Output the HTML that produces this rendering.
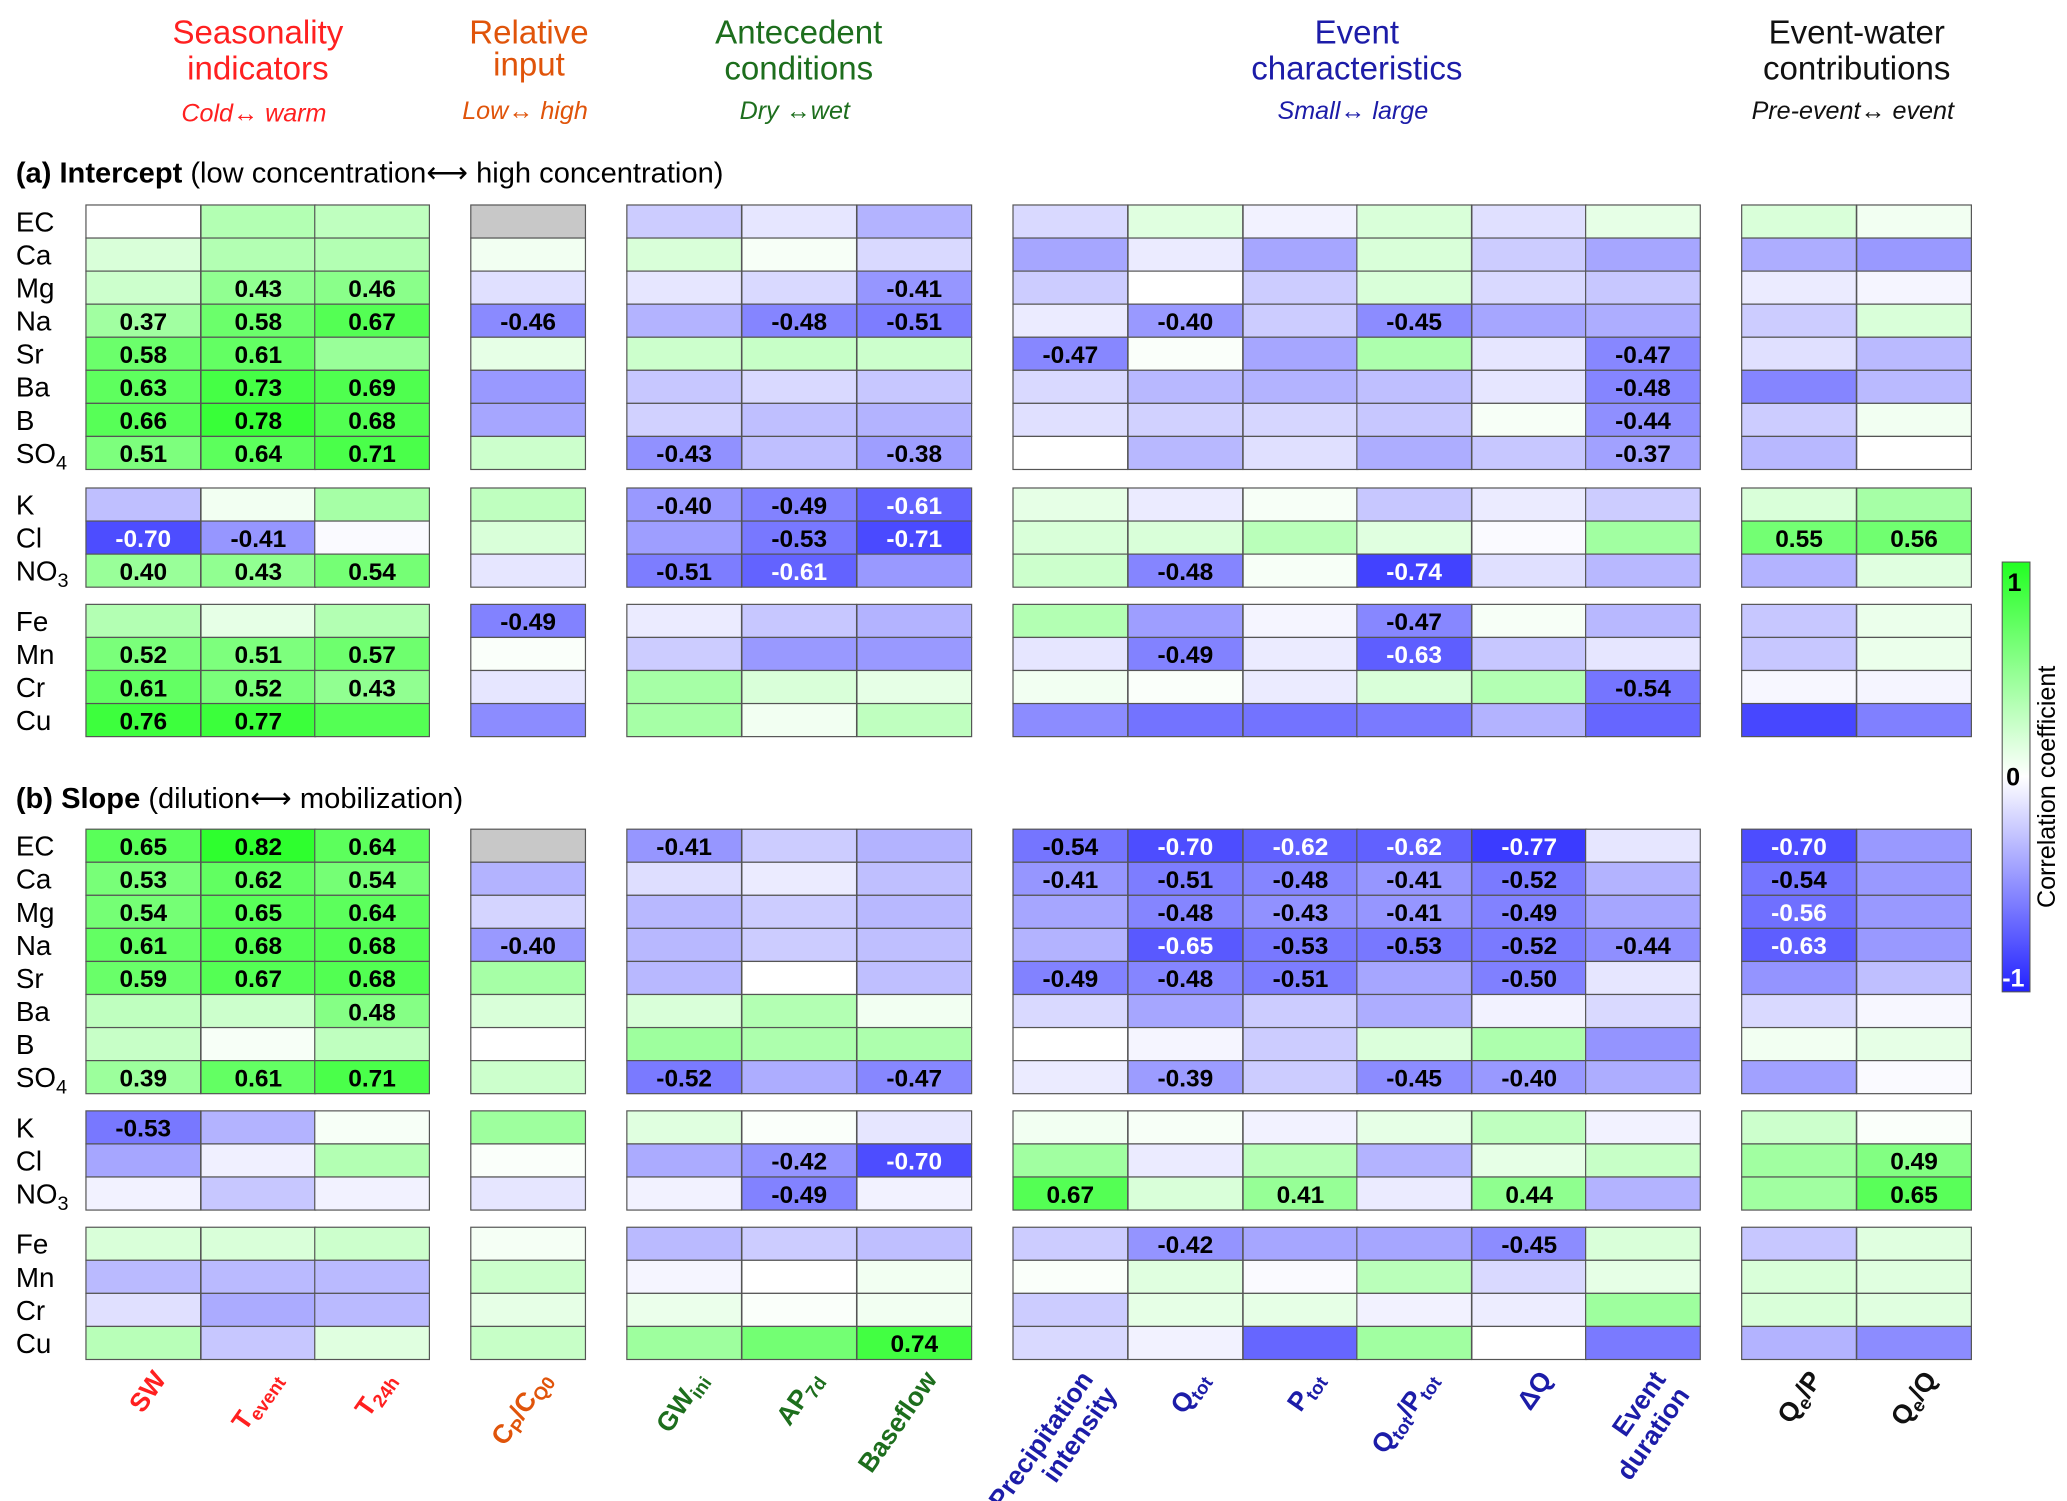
<!DOCTYPE html>
<html><head><meta charset="utf-8"><style>
html,body{margin:0;padding:0;background:#fff;}
svg{display:block;font-family:"Liberation Sans",Arial,sans-serif;}
</style></head><body>
<svg id="chart" width="2067" height="1501" viewBox="0 0 1563 1135" xmlns="http://www.w3.org/2000/svg">
<g font-size="25" text-anchor="middle">
<text x="195" y="33" fill="#ff2020">Seasonality</text>
<text x="195" y="60" fill="#ff2020">indicators</text>
<text x="400" y="33" fill="#e0540a">Relative</text>
<text x="400" y="57" fill="#e0540a">input</text>
<text x="604" y="33" fill="#1d6e1d">Antecedent</text>
<text x="604" y="60" fill="#1d6e1d">conditions</text>
<text x="1026" y="33" fill="#1c1ca8">Event</text>
<text x="1026" y="60" fill="#1c1ca8">characteristics</text>
<text x="1404" y="33" fill="#111">Event-water</text>
<text x="1404" y="60" fill="#111">contributions</text>
<g font-size="19" font-style="italic">
<text x="192" y="92" fill="#ff2020">Cold↔ warm</text>
<text x="397" y="90" fill="#e0540a">Low↔ high</text>
<text x="601" y="90" fill="#1d6e1d">Dry ↔wet</text>
<text x="1023" y="90" fill="#1c1ca8">Small↔ large</text>
<text x="1401" y="90" fill="#111">Pre-event↔ event</text>
</g></g>
<text x="12" y="138" font-size="22"><tspan font-weight="bold">(a) Intercept</tspan> (low concentration⟷ high concentration)</text>
<text x="12" y="611" font-size="22"><tspan font-weight="bold">(b) Slope</tspan> (dilution⟷  mobilization)</text>
<g id="cells"></g>
<g id="labels"></g>
<defs><linearGradient id="cb" x1="0" y1="0" x2="0" y2="1">
<stop offset="0" stop-color="#22ff22"/><stop offset="0.5" stop-color="#ffffff"/><stop offset="1" stop-color="#2222ff"/></linearGradient></defs>
<rect x="1514" y="425" width="21" height="325" fill="url(#cb)" stroke="#555" stroke-width="0.8"/>
<text x="1518" y="447" font-size="19" font-weight="bold">1</text>
<text x="1517" y="594" font-size="19" font-weight="bold">0</text>
<text x="1514" y="746" font-size="19" font-weight="bold" fill="#fff">-1</text>
<text transform="translate(1554,595) rotate(-90)" font-size="19" text-anchor="middle">Correlation coefficient</text>
</svg>
<script>
const elements = ["EC","Ca","Mg","Na","Sr","Ba","B","SO4","K","Cl","NO3","Fe","Mn","Cr","Cu"];
const variables = ["SW","Tevent","T24h","Cp/CQ0","GWini","AP7d","Baseflow","Precipitation intensity","Qtot","Ptot","Qtot/Ptot","dQ","Event duration","Qe/P","Qe/Q"];
const interceptValues = [
[0.0,0.3,0.25,null,-0.2,-0.1,-0.3,-0.15,0.12,-0.05,0.15,-0.12,0.1,0.15,0.05],
[0.15,0.3,0.3,0.05,0.15,0.03,-0.15,-0.35,-0.08,-0.35,0.15,-0.2,-0.35,-0.32,-0.4],
[0.2,0.43,0.46,-0.12,-0.1,-0.15,-0.41,-0.2,0,-0.2,0.15,-0.15,-0.22,-0.08,-0.04],
[0.37,0.58,0.67,-0.46,-0.3,-0.48,-0.51,-0.08,-0.40,-0.2,-0.45,-0.35,-0.32,-0.2,0.15],
[0.58,0.61,0.4,0.1,0.2,0.22,0.2,-0.47,0.02,-0.35,0.32,-0.1,-0.47,-0.12,-0.27],
[0.63,0.73,0.69,-0.4,-0.22,-0.15,-0.22,-0.15,-0.28,-0.3,-0.25,-0.1,-0.48,-0.48,-0.27],
[0.66,0.78,0.68,-0.35,-0.18,-0.25,-0.3,-0.12,-0.18,-0.16,-0.22,0.03,-0.44,-0.2,0.05],
[0.51,0.64,0.71,0.2,-0.43,-0.25,-0.38,0.0,-0.28,-0.12,-0.32,-0.22,-0.37,-0.28,0.0],
[-0.25,0.05,0.35,0.25,-0.40,-0.49,-0.61,0.1,-0.08,0.03,-0.22,-0.08,-0.2,0.15,0.35],
[-0.70,-0.41,-0.02,0.15,-0.38,-0.53,-0.71,0.15,0.15,0.27,0.12,-0.02,0.37,0.55,0.56],
[0.40,0.43,0.54,-0.1,-0.51,-0.61,-0.4,0.2,-0.48,0.03,-0.74,-0.12,-0.28,-0.3,0.12],
[0.3,0.1,0.3,-0.49,-0.08,-0.22,-0.3,0.3,-0.38,-0.04,-0.47,0.03,-0.28,-0.22,0.08],
[0.52,0.51,0.57,0.02,-0.2,-0.4,-0.4,-0.1,-0.49,-0.08,-0.63,-0.22,-0.1,-0.22,0.08],
[0.61,0.52,0.43,-0.1,0.35,0.15,0.1,0.05,0.02,-0.08,0.15,0.3,-0.54,-0.03,-0.04],
[0.76,0.77,0.67,-0.45,0.35,0.05,0.25,-0.45,-0.55,-0.55,-0.52,-0.3,-0.6,-0.72,-0.5]];
const interceptSig = ["000000000000000","000000000000000","011000100000000","111101101010000","110000010000100","111000000000100","111000000000100","111010100000100","000011100000000","110001100000011","111011001010000","000100000010000","111000001010000","111000000000100","110000000000000"];
const slopeValues = [
[0.65,0.82,0.64,null,-0.41,-0.2,-0.3,-0.54,-0.70,-0.62,-0.62,-0.77,-0.1,-0.70,-0.4],
[0.53,0.62,0.54,-0.3,-0.13,-0.08,-0.25,-0.41,-0.51,-0.48,-0.41,-0.52,-0.3,-0.54,-0.4],
[0.54,0.65,0.64,-0.17,-0.28,-0.2,-0.28,-0.35,-0.48,-0.43,-0.41,-0.49,-0.35,-0.56,-0.4],
[0.61,0.68,0.68,-0.40,-0.28,-0.2,-0.25,-0.3,-0.65,-0.53,-0.53,-0.52,-0.44,-0.63,-0.4],
[0.59,0.67,0.68,0.35,-0.28,0,-0.25,-0.49,-0.48,-0.51,-0.35,-0.50,-0.1,-0.42,-0.25],
[0.25,0.2,0.48,0.15,0.15,0.3,0.05,-0.15,-0.35,-0.2,-0.32,-0.05,-0.15,-0.15,-0.03],
[0.22,0.03,0.25,0.0,0.38,0.32,0.32,0.0,-0.04,-0.2,0.14,0.32,-0.42,0.05,0.1],
[0.39,0.61,0.71,0.2,-0.52,-0.32,-0.47,-0.08,-0.39,-0.2,-0.45,-0.40,-0.32,-0.37,-0.02],
[-0.53,-0.3,0.03,0.38,0.12,0.02,-0.1,0.05,0.03,-0.05,0.1,0.25,-0.05,0.2,0.02],
[-0.35,-0.06,0.3,0.02,-0.33,-0.42,-0.70,0.37,-0.08,0.28,-0.3,0.1,0.22,0.37,0.49],
[-0.05,-0.22,-0.05,-0.1,-0.05,-0.49,-0.05,0.67,0.15,0.41,-0.08,0.44,-0.3,0.37,0.65],
[0.15,0.15,0.2,0.04,-0.27,-0.2,-0.25,-0.2,-0.42,-0.35,-0.35,-0.45,0.15,-0.22,0.12],
[-0.27,-0.27,-0.27,0.2,-0.04,0,0.05,0.02,0.12,-0.02,0.27,-0.15,0.1,0.15,0.12],
[-0.12,-0.33,-0.27,0.1,0.08,0.02,0.05,-0.2,0.1,0.1,-0.05,-0.07,0.38,0.15,0.12],
[0.28,-0.22,0.12,0.22,0.38,0.55,0.74,-0.15,-0.05,-0.6,0.37,0,-0.52,-0.3,-0.45]];
const slopeSig = ["111010011111010","111000011111010","111000001111010","111100001111110","111000011101000","001000000000000","000000000000000","111010101011000","100000000000000","000001100000001","000001010101001","000000001001000","000000000000000","000000000000000","000000100000000"];

const colX = [65,152,238,356,474,561,648,766,853,940,1026,1113,1199,1317,1404];
const cellW = 86.7, cellH = 25;
const groupStartsA = [155,369,457], groupStartsB = [627,840,928];
function rowY(i, starts){ if(i<8) return starts[0]+i*cellH; if(i<11) return starts[1]+(i-8)*cellH; return starts[2]+(i-11)*cellH; }
function cellColor(v){
  if(v===null) return "#c8c8c8";
  const a = Math.max(0, Math.min(1, Math.abs(v)));
  const c = Math.round(Math.max(30, 255*(1-a)));
  return v>=0 ? "rgb("+c+",255,"+c+")" : "rgb("+c+","+c+",255)";
}
const NS = "http://www.w3.org/2000/svg";
const cellLayer = document.getElementById("cells");
const labelLayer = document.getElementById("labels");
function drawPanel(vals, sig, starts, tag){
  vals.forEach(function(row,i){
    row.forEach(function(v,j){
      const r = document.createElementNS(NS,"rect");
      r.setAttribute("x",colX[j]); r.setAttribute("y",rowY(i,starts));
      r.setAttribute("width",cellW); r.setAttribute("height",cellH);
      r.setAttribute("fill",cellColor(v)); r.setAttribute("stroke","#555"); r.setAttribute("stroke-width","0.9");
      
      
      cellLayer.appendChild(r);
      if(v!==null && sig[i][j]==="1"){
        const t = document.createElementNS(NS,"text");
        t.setAttribute("x",colX[j]+cellW/2); t.setAttribute("y",rowY(i,starts)+19.5);
        t.setAttribute("text-anchor","middle"); t.setAttribute("font-size","18.5"); t.setAttribute("font-weight","bold");
        t.setAttribute("fill", v<=-0.55 ? "#fff" : "#000");
        t.textContent = v.toFixed(2);
        
        
        labelLayer.appendChild(t);
      }
    });
  });
  elements.forEach(function(e,i){
    const t = document.createElementNS(NS,"text");
    t.setAttribute("x",12); t.setAttribute("y",rowY(i,starts)+20); t.setAttribute("font-size","21");
    if(e==="SO4"||e==="NO3"){ t.innerHTML = e.slice(0,2)+'<tspan font-size="15" dy="5">'+e[2]+'</tspan>'; }
    else t.textContent = e;
    
    
    labelLayer.appendChild(t);
  });
}
drawPanel(interceptValues, interceptSig, groupStartsA, "a");
drawPanel(slopeValues, slopeSig, groupStartsB, "b");
const xColors = ["#ff2020","#ff2020","#ff2020","#e0540a","#1d6e1d","#1d6e1d","#1d6e1d","#1c1ca8","#1c1ca8","#1c1ca8","#1c1ca8","#1c1ca8","#1c1ca8","#111","#111"];
const xHtml = ['SW','T<tspan font-size="14" dy="4">event</tspan>','T<tspan font-size="14" dy="4">24h</tspan>','C<tspan font-size="14" dy="4">P</tspan><tspan dy="-4">/C</tspan><tspan font-size="14" dy="4">Q0</tspan>','GW<tspan font-size="14" dy="4">ini</tspan>','AP<tspan font-size="14" dy="4">7d</tspan>','Baseflow','Precipitation','Q<tspan font-size="14" dy="4">tot</tspan>','P<tspan font-size="14" dy="4">tot</tspan>','Q<tspan font-size="14" dy="4">tot</tspan><tspan dy="-4">/P</tspan><tspan font-size="14" dy="4">tot</tspan>','ΔQ','Event','Q<tspan font-size="14" dy="4">e</tspan><tspan dy="-4">/P</tspan>','Q<tspan font-size="14" dy="4">e</tspan><tspan dy="-4">/Q</tspan>'];
variables.forEach(function(v,j){
  const cx = colX[j]+cellW/2+18, cy = 1043;
  const t = document.createElementNS(NS,"text");
  t.setAttribute("transform","translate("+cx+","+cy+") rotate(-55)");
  t.setAttribute("text-anchor","end"); t.setAttribute("font-size","20"); t.setAttribute("font-weight","bold");
  t.setAttribute("fill",xColors[j]); t.innerHTML = xHtml[j];
  
  
  labelLayer.appendChild(t);
  if(j===7||j===12){
    const t2 = document.createElementNS(NS,"text");
    t2.setAttribute("transform","translate("+(cx+18)+","+(cy+12)+") rotate(-55)");
    t2.setAttribute("text-anchor","end"); t2.setAttribute("font-size","20"); t2.setAttribute("font-weight","bold");
    t2.setAttribute("fill",xColors[j]); t2.textContent = j===7 ? "intensity" : "duration";
    
    
    labelLayer.appendChild(t2);
  }
});
</script>
</body></html>
